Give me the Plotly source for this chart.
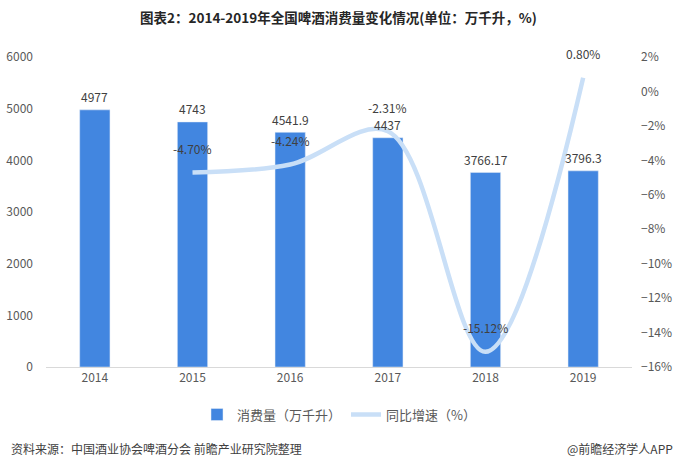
import plotly.graph_objects as go
from plotly.subplots import make_subplots

# 数据
years = ['2014', '2015', '2016', '2017', '2018', '2019']
consumption = [4977, 4743, 4541.9, 4437, 3766.17, 3796.3]
growth_years = ['2015', '2016', '2017', '2018', '2019']
growth = [-4.70, -4.24, -2.31, -15.12, 0.80]

bar_text = ['4977', '4743', '4541.9', '4437', '3766.17', '3796.3']
line_text = ['-4.70%', '-4.24%', '-2.31%', '-15.12%', '0.80%']

fig = make_subplots(specs=[[{"secondary_y": True}]])

fig.add_trace(go.Bar(x=years, y=consumption, name='消费量（万千升）',
                     marker_color='#4286E0', width=0.31),
              secondary_y=False)

fig.add_trace(go.Scatter(x=growth_years, y=growth, name='同比增速（%）',
                         mode='lines', line=dict(color='#C9DFF7', width=4.5, shape='spline', smoothing=1.0)),
              secondary_y=True)

# 柱子数值标签
for i, (v, t) in enumerate(zip(consumption, bar_text)):
    fig.add_annotation(x=i, y=v, xref='x', yref='y', text=t, showarrow=False,
                       yshift=13, borderpad=0, font=dict(size=12, color='#404040'))

# 增速标签放在点上方（类别轴上用序号定位）
for x, y, t in zip(growth_years, growth, line_text):
    fig.add_annotation(x=years.index(x), y=y, xref='x', yref='y2', text=t, showarrow=False,
                       yshift=24, borderpad=0, font=dict(size=12, color='#404040'))

fig.update_layout(
    width=677, height=475,
    margin=dict(l=46, r=45, t=57, b=108),
    plot_bgcolor='white', paper_bgcolor='white',
    font=dict(family='Noto Sans CJK SC', size=12, color='#595959'),
    title=dict(text='<b>图表2：2014-2019年全国啤酒消费量变化情况(单位：万千升，%)</b>',
               x=0.5, xanchor='center', y=0.962, yanchor='middle',
               font=dict(size=13.5, color='#262626')),
    legend=dict(orientation='h', x=0.5, xanchor='center', y=-0.105, yanchor='top',
                font=dict(size=13, color='#595959')),
    bargap=0.69,
)

fig.update_xaxes(type='category', range=[-0.5, 5.5], domain=[0, 1], showline=True, linecolor='#D9D9D9',
                 ticks='', showgrid=False, tickfont=dict(size=12, color='#595959'))
fig.update_yaxes(range=[0, 6000], dtick=1000, showgrid=False, zeroline=False, automargin=False,
                 tickfont=dict(size=12, color='#595959'), ticklabelstandoff=12,
                 secondary_y=False)
fig.update_yaxes(range=[-16, 2], dtick=2, ticksuffix='%', showgrid=False, zeroline=False, automargin=False,
                 tickfont=dict(size=12, color='#595959'), ticklabelstandoff=8,
                 secondary_y=True)

fig.add_annotation(text='资料来源：中国酒业协会啤酒分会 前瞻产业研究院整理', xref='paper', yref='paper',
                   x=-0.063, y=-0.262, xanchor='left', yanchor='middle', showarrow=False,
                   font=dict(size=12, color='#404040'))
fig.add_annotation(text='@前瞻经济学人APP', xref='paper', yref='paper',
                   x=1.074, y=-0.262, xanchor='right', yanchor='middle', showarrow=False,
                   font=dict(size=12, color='#404040'))

fig.write_html("out.html", config={'displayModeBar': False},
               post_script="document.body.style.margin='0';")
